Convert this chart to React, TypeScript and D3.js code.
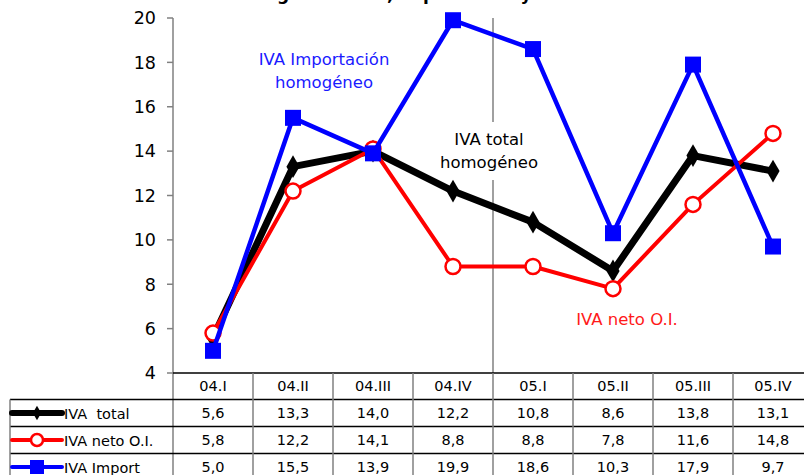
import React from "react";
import * as d3 from "d3";

const categories = ["04.I", "04.II", "04.III", "04.IV", "05.I", "05.II", "05.III", "05.IV"];
const ivaTotal = [5.6, 13.3, 14.0, 12.2, 10.8, 8.6, 13.8, 13.1];
const ivaNeto = [5.8, 12.2, 14.1, 8.8, 8.8, 7.8, 11.6, 14.8];
const ivaImport = [5.0, 15.5, 13.9, 19.9, 18.6, 10.3, 17.9, 9.7];
const yTicks = [4, 6, 8, 10, 12, 14, 16, 18, 20];
const seriesNames = ["IVA  total", "IVA neto O.I.", "IVA Import"];

const W = 804, H = 475;
const FONT = "DejaVu Sans, Verdana, sans-serif";

export default function App() {
  const x = d3.scaleBand<string>().domain(categories).range([173, 813]).padding(0);
  const y = d3.scaleLinear().domain([4, 20]).range([373, 18]);
  const cx = (c: string) => (x(c) as number) + x.bandwidth() / 2;
  const line = d3.line<number>().x((_, i) => cx(categories[i])).y((d) => y(d));
  const fmt = (v: number) => v.toFixed(1).replace(".", ",");
  const rowTop = [373, 399.5, 426.5, 453.5, 480.5];
  const series = [ivaTotal, ivaNeto, ivaImport];
  const sepX = x("05.I") as number;

  const legendMarker = (i: number, mx: number, my: number) => {
    if (i === 0) return <path d={d3.symbol(d3.symbolDiamond, 60)() as string} transform={`translate(${mx},${my})`} fill="#000" />;
    if (i === 1) return <circle cx={mx} cy={my} r={6} fill="#fff" stroke="#f00" strokeWidth={2.5} />;
    return <rect x={mx - 7} y={my - 7} width={14} height={14} fill="#00f" />;
  };
  const colors = ["#000", "#f00", "#00f"];
  const widths = [7, 4, 4.5];

  return (
    <svg width={W} height={H} style={{ position: "absolute", left: 0, top: 0, background: "#fff" }} fontFamily={FONT}>
      <rect width={W} height={H} fill="#fff" />
      <text x={418} y={0} textAnchor="middle" fontSize={17} fontWeight="bold" fill="#000">IVA homogéneo total, importación y neto de O.I.</text>
      {/* y axis */}
      <line x1={173} x2={173} y1={18} y2={480} stroke="#808080" strokeWidth={1.5} />
      {yTicks.map((t) => (
        <g key={t}>
          <line x1={167} x2={173} y1={y(t)} y2={y(t)} stroke="#808080" strokeWidth={1.5} />
          <text x={156} y={y(t)} dy="0.36em" textAnchor="end" fontSize={17.5} fill="#000">{t}</text>
        </g>
      ))}
      {/* separator */}
      <line x1={sepX} x2={sepX} y1={18} y2={122} stroke="#808080" strokeWidth={1.5} />
      <line x1={sepX} x2={sepX} y1={180} y2={373} stroke="#808080" strokeWidth={1.5} />
      <text x={489} y={145} textAnchor="middle" fontSize={16.5} fill="#000">IVA total</text>
      <text x={489} y={168} textAnchor="middle" fontSize={16.5} fill="#000">homogéneo</text>
      <text x={324} y={65} textAnchor="middle" fontSize={16.5} fill="#1a1aff">IVA Importación</text>
      <text x={324} y={88} textAnchor="middle" fontSize={16.5} fill="#1a1aff">homogéneo</text>
      <text x={627} y={325} textAnchor="middle" fontSize={16.5} fill="#ff1a1a">IVA neto O.I.</text>
      {/* table */}
      <line x1={173} x2={W} y1={373} y2={373} stroke="#000" strokeWidth={1.5} />
      {rowTop.slice(1, 4).map((r) => (
        <line key={r} x1={10} x2={W} y1={r} y2={r} stroke="#000" strokeWidth={1.5} />
      ))}
      <line x1={10} x2={10} y1={399.5} y2={480} stroke="#808080" strokeWidth={1.5} />
      {categories.map((c) => (
        <line key={c} x1={(x(c) as number) + x.bandwidth()} x2={(x(c) as number) + x.bandwidth()} y1={373} y2={480} stroke="#808080" strokeWidth={1.5} />
      ))}
      {categories.map((c) => (
        <text key={c} x={cx(c)} y={(rowTop[0] + rowTop[1]) / 2} dy="0.36em" textAnchor="middle" fontSize={14.5} fill="#000">{c}</text>
      ))}
      {series.map((s, i) => (
        <g key={i}>
          {s.map((v, j) => (
            <text key={j} x={cx(categories[j])} y={(rowTop[i + 1] + rowTop[i + 2]) / 2} dy="0.36em" textAnchor="middle" fontSize={14.5} fill="#000">{fmt(v)}</text>
          ))}
          <line x1={12} x2={62} y1={(rowTop[i + 1] + rowTop[i + 2]) / 2} y2={(rowTop[i + 1] + rowTop[i + 2]) / 2} stroke={colors[i]} strokeWidth={i === 0 ? 6 : 4} strokeLinecap="round" />
          {legendMarker(i, 37, (rowTop[i + 1] + rowTop[i + 2]) / 2)}
          <text x={64} y={(rowTop[i + 1] + rowTop[i + 2]) / 2} dy="0.4em" fontSize={14.5} fill="#000" style={{ whiteSpace: "pre" }}>{seriesNames[i]}</text>
        </g>
      ))}
      {/* lines */}
      {series.map((s, i) => (
        <g key={"s" + i}>
          <path d={line(s) as string} fill="none" stroke={colors[i]} strokeWidth={widths[i]} strokeLinejoin="round" />
          {s.map((v, j) => {
            const px = cx(categories[j]), py = y(v);
            if (i === 0) return <path key={j} d={d3.symbol(d3.symbolDiamond, 150)() as string} transform={`translate(${px},${py})`} fill="#000" />;
            if (i === 1) return <circle key={j} cx={px} cy={py} r={7.5} fill="#fff" stroke="#f00" strokeWidth={2.5} />;
            return <rect key={j} x={px - 8} y={py - 8} width={16} height={16} fill="#00f" />;
          })}
        </g>
      ))}
    </svg>
  );
}
